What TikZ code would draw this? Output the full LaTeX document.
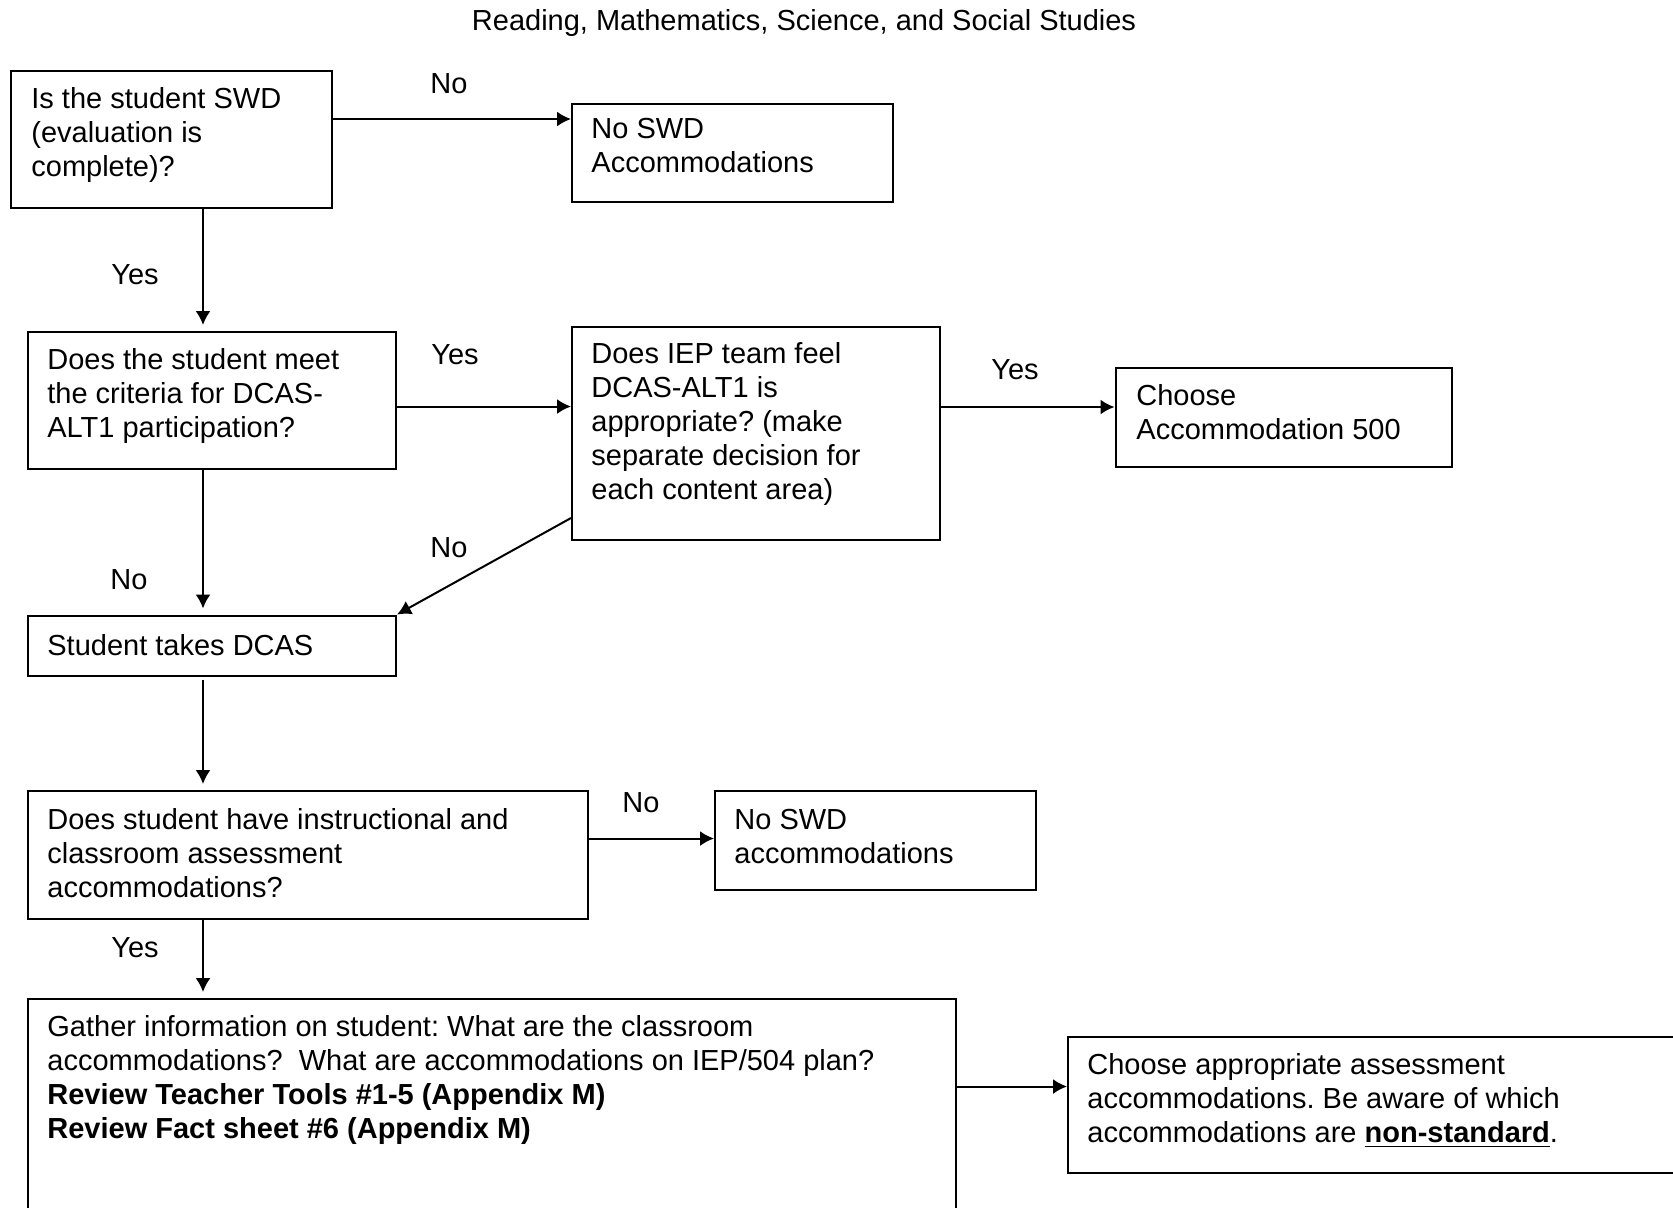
\documentclass[tikz,border=0pt]{standalone}
\usepackage{fontspec}
\setmainfont{Liberation Sans}
\usetikzlibrary{arrows.meta}

\begin{document}
\begin{tikzpicture}[x=0.5pt, y=-0.5pt,
    box/.style={rectangle, draw=black, line width=1pt, inner sep=0pt, anchor=north west},
    boxText/.style={anchor=north west, inner sep=0pt, align=left, execute at begin node=\strut},
    choiceLabel/.style={anchor=base, inner sep=0pt},
    flowArrow/.style={line width=1pt, -{Latex[length=7pt, width=7.5pt]}, shorten >=3pt},
    every node/.append style={font=\fontsize{14.5}{17}\selectfont\frenchspacing}]
    \clip (0,0) rectangle (1673,1207);

    \node [anchor=base, inner sep=0pt] (titleLine) at (804,30) {Reading, Mathematics, Science, and Social Studies};

    % boxes
    \node [box, minimum width=160.5pt, minimum height=68.5pt] (swdQuestion) at (10,70) {};
    \node [box, minimum width=160.5pt, minimum height=49pt] (noSwdTop) at (571,102.5) {};
    \node [box, minimum width=184pt, minimum height=68.5pt] (altCriteria) at (27,331) {};
    \node [box, minimum width=184pt, minimum height=106.5pt] (iepTeam) at (571,326) {};
    \node [box, minimum width=168pt, minimum height=49.5pt] (chooseFive) at (1114.5,366.5) {};
    \node [box, minimum width=184pt, minimum height=30pt] (takesDcas) at (27,614.5) {};
    \node [box, minimum width=280pt, minimum height=64pt] (classAccom) at (27,790) {};
    \node [box, minimum width=160.5pt, minimum height=49.5pt] (noSwdBottom) at (714,790) {};
    \node [box, minimum width=464pt, minimum height=130pt] (gatherInfo) at (27,998) {};
    \node [box, minimum width=330pt, minimum height=68pt] (chooseAssess) at (1067,1036) {};

    % texts
    \node [boxText] (swdQuestionText) at (31,87) {Is the student SWD\\(evaluation is\\complete)?};
    \node [boxText] (noSwdTopText) at (591,118) {No SWD\\Accommodations};
    \node [boxText] (altCriteriaText) at (47,348) {Does the student meet\\the criteria for DCAS-\\ALT1 participation?};
    \node [boxText] (iepTeamText) at (591,342.5) {Does IEP team feel\\DCAS-ALT1 is\\appropriate? (make\\separate decision for\\each content area)};
    \node [boxText] (chooseFiveText) at (1136,384.5) {Choose\\Accommodation 500};
    \node [boxText] (takesDcasText) at (47,631) {Student takes DCAS};
    \node [boxText] (classAccomText) at (47,808.5) {Does student have instructional and\\classroom assessment\\accommodations?};
    \node [boxText] (noSwdBottomText) at (734,808.5) {No SWD\\accommodations};
    \node [boxText] (gatherInfoText) at (47,1015) {Gather information on student: What are the classroom\\accommodations?\ \ What are accommodations on IEP/504 plan?\\\textbf{Review Teacher Tools \#1-5 (Appendix M)}\\\textbf{Review Fact sheet \#6 (Appendix M)}};
    \node [boxText] (chooseAssessText) at (1087,1053.5) {Choose appropriate assessment\\accommodations. Be aware of which\\accommodations are \textbf{\underline{non-standard}}.};

    % connectors
    \draw [flowArrow, shorten >=0pt] (swdQuestion.east |- 0,119) -- (noSwdTop.west |- 0,119);
    \draw [flowArrow] (swdQuestion.south -| 203,0) -- (altCriteria.north -| 203,0);
    \draw [flowArrow, shorten >=0pt] (altCriteria.east |- 0,406.5) -- (iepTeam.west |- 0,406.5);
    \draw [flowArrow, shorten >=0pt] (iepTeam.east |- 0,407) -- (chooseFive.west |- 0,407);
    \draw [flowArrow, shorten >=0pt] (iepTeam.west |- 0,518) -- (takesDcas.north east);
    \draw [flowArrow] (altCriteria.south -| 203,0) -- (takesDcas.north -| 203,0);
    \draw [flowArrow] ([yshift=-1.5pt]takesDcas.south -| 203,0) -- (classAccom.north -| 203,0);
    \draw [flowArrow, shorten >=0pt] (classAccom.east |- 0,838.5) -- (noSwdBottom.west |- 0,838.5);
    \draw [flowArrow] (classAccom.south -| 203,0) -- (gatherInfo.north -| 203,0);
    \draw [flowArrow, shorten >=0pt] (gatherInfo.east |- 0,1086.5) -- (chooseAssess.west |- 0,1086.5);

    % labels
    \node [choiceLabel] (noLabelA) at (449,93) {No};
    \node [choiceLabel] (yesLabelA) at (135,284) {Yes};
    \node [choiceLabel] (yesLabelB) at (455,364) {Yes};
    \node [choiceLabel] (yesLabelC) at (1015,379) {Yes};
    \node [choiceLabel] (noLabelB) at (449,557) {No};
    \node [choiceLabel] (noLabelC) at (129,589) {No};
    \node [choiceLabel] (noLabelD) at (641,812) {No};
    \node [choiceLabel] (yesLabelD) at (135,957) {Yes};
\end{tikzpicture}
\end{document}
